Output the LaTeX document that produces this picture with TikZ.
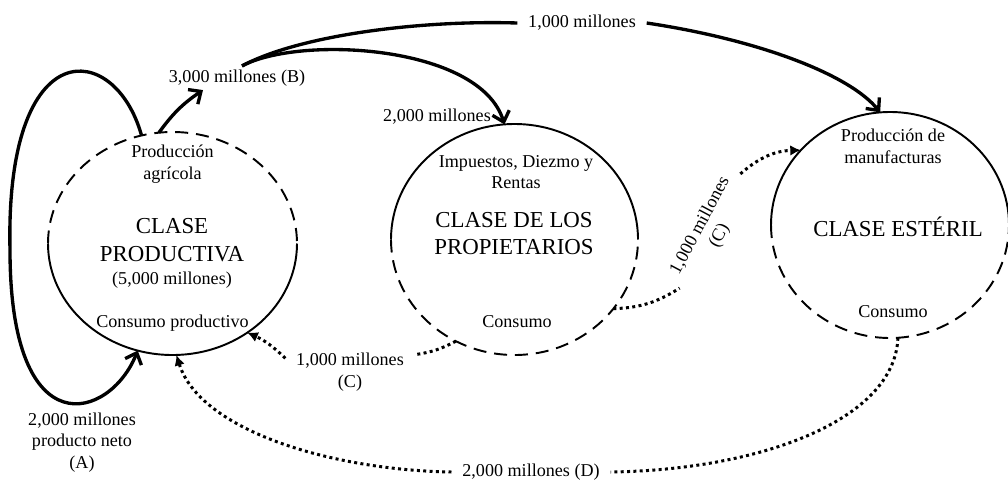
\documentclass[tikz,border=0pt]{standalone}
\usepackage{fontspec}
\setmainfont{Liberation Serif}
\usetikzlibrary{arrows.meta,shapes.geometric,positioning}

\begin{document}
\begin{tikzpicture}[
  clase/.style={ellipse,inner sep=0pt,outer sep=0pt},
  rim/.style={line width=1.1pt},
  half/.style={line width=1.1pt,dash pattern=on 7.4pt off 4.5pt},
  txt/.style={align=center,font=\fontsize{10.3}{12.4}\selectfont},
  big/.style={align=center,font=\fontsize{13}{15.6}\selectfont},
  lab/.style={txt,inner xsep=6pt,inner ysep=2pt},
  flowline/.style={line width=1.9pt},
  flow/.style={flowline,-{Straight Barb[length=5.5pt,width=10pt]}},
  dots/.style={line width=1.7pt,dash pattern=on 1.7pt off 1.9pt},
  dotflow/.style={dots,-{Latex[length=6pt,width=6pt]}}]
\useasboundingbox (0,0) rectangle (20.16,9.86);

\node[clase,minimum width=4.98cm,minimum height=4.46cm] (prod) at (3.45,4.99) {};
\node[clase,minimum width=4.94cm,minimum height=4.62cm] (propi) at (10.29,5.07) {};
\node[clase,minimum width=4.76cm,minimum height=4.52cm] (ester) at (17.8,5.36) {};

\draw[half] (prod.west) arc[start angle=180,end angle=0,x radius=2.49cm,y radius=2.23cm];
\draw[rim] (prod.west) arc[start angle=180,end angle=360,x radius=2.49cm,y radius=2.23cm];
\draw[rim] (propi.west) arc[start angle=180,end angle=0,x radius=2.47cm,y radius=2.31cm];
\draw[half] (propi.west) arc[start angle=180,end angle=360,x radius=2.47cm,y radius=2.31cm];
\draw[rim] (ester.west) arc[start angle=180,end angle=0,x radius=2.38cm,y radius=2.26cm];
\draw[half] (ester.west) arc[start angle=180,end angle=360,x radius=2.38cm,y radius=2.26cm];

\node[txt] (prodtop) at (3.45,6.58) {Producción\\agrícola};
\node[big] (prodname) at (3.44,5.06) {CLASE\\PRODUCTIVA};
\node[txt] (prodval) at (3.44,4.26) {(5,000 millones)};
\node[txt] (prodcons) at (3.45,3.40) {Consumo productivo};

\node[txt] (propitop) at (10.32,6.42) {Impuestos, Diezmo y\\Rentas};
\node[big] (propiname) at (10.28,5.19) {CLASE DE LOS\\PROPIETARIOS};
\node[txt] (propicons) at (10.34,3.42) {Consumo};

\node[txt] (estertop) at (17.86,6.94) {Producción de\\manufacturas};
\node[big] (estername) at (17.96,5.32) {CLASE ESTÉRIL};
\node[txt] (estercons) at (17.86,3.62) {Consumo};

\node[lab] (labA) at (1.64,1.01) {2,000 millones\\producto neto\\(A)};
\node[lab] (labB) at (4.74,8.30) {3,000 millones (B)};
\node[lab] (labBprop) at (8.74,7.52) {2,000 millones};
\node[lab] (labBest) at (11.64,9.40) {1,000 millones};
\node[lab] (labC) at (7.0,2.42) {1,000 millones\\(C)};
\node[lab,rotate=62] (labCest) at (14.2,5.24) {1,000 millones\\(C)};
\node[lab] (labD) at (10.62,0.42) {2,000 millones (D)};

\coordinate (loopA) at (0.2,4.86);
\draw[flow] (prod.106) .. controls (2.3,9.06) and (0.1,9.26) .. (loopA)
  .. controls (0.2,0.86) and (2.2,1.46) .. (prod.-108);
\draw[flow] (prod.97) to[bend left=10] ([xshift=-0.68cm]labB.south);
\draw[flowline] ([xshift=0.1cm]labB.north) .. controls (6.0,9.16) and (8.4,9.46) .. (labBest.west);
\draw[flow] (labBest.east) .. controls (15.2,9.06) and (17.0,8.36) .. (ester.95);
\draw[flow] ([xshift=0.1cm]labB.north) .. controls (6.0,9.16) and (9.6,8.96) .. (propi.95);

\draw[dots] (propi.-120) to[bend left=10] (labC.15);
\draw[dotflow] (labC.168) to[bend right=10] (prod.-50);
\draw[dots] (propi.-35) to[bend right=15] (labCest.west);
\draw[dotflow] (labCest.east) to[bend left=20] (ester.140);
\draw[dots] (ester.-86) .. controls (17.9,1.46) and (15.2,0.46) .. (labD.east);
\draw[dotflow] (labD.west) .. controls (6.6,0.46) and (4.0,1.26) .. (prod.-88);
\end{tikzpicture}
\end{document}
